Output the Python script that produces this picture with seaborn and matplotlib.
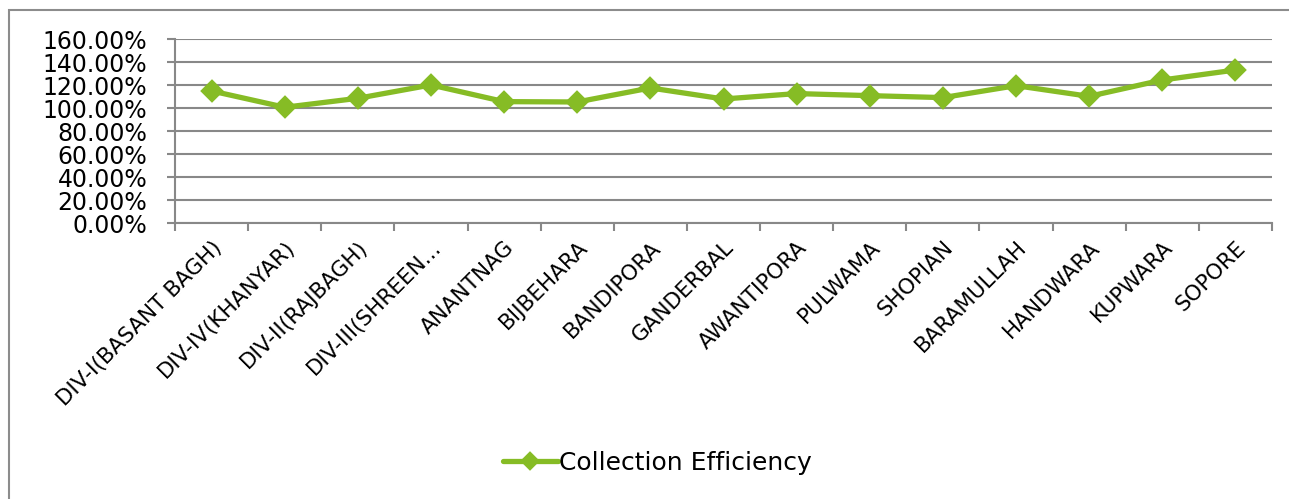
import numpy as np
import pandas as pd
import seaborn as sns
import matplotlib.pyplot as plt
from matplotlib.patches import Rectangle
from matplotlib.ticker import FuncFormatter, MultipleLocator

# Chart data
divisions = ['DIV-I(BASANT BAGH)', 'DIV-IV(KHANYAR)', 'DIV-II(RAJBAGH)', 'DIV-III(SHREEN...',
             'ANANTNAG', 'BIJBEHARA', 'BANDIPORA', 'GANDERBAL', 'AWANTIPORA', 'PULWAMA',
             'SHOPIAN', 'BARAMULLAH', 'HANDWARA', 'KUPWARA', 'SOPORE']
efficiency = [115.1, 100.9, 108.7, 120.3, 105.8, 105.5, 117.7, 108.1, 112.8, 111.0,
              109.3, 119.7, 110.4, 124.6, 133.3]
series_name = 'Collection Efficiency'
y_ticks = [0, 20, 40, 60, 80, 100, 120, 140, 160]

GREEN = '#86BC25'
GRID = '#888888'


def plot_efficiency(df):
    """
    Line chart of collection efficiency per division, Excel style.
    """
    sns.set_style('white')
    plt.rcParams['font.family'] = ['DejaVu Sans']
    plt.rcParams['text.color'] = 'black'
    plt.rcParams['xtick.labelcolor'] = 'black'
    plt.rcParams['ytick.labelcolor'] = 'black'

    fig = plt.figure(figsize=(12.89, 4.99), dpi=100)
    ax = fig.add_axes([175 / 1289, 1 - 223.3 / 499, (1272 - 175) / 1289, 184 / 499])

    sns.pointplot(data=df, x='Division', y='Efficiency', color=GREEN, markers='D',
                  markersize=9, linewidth=3.8, ax=ax, label=series_name)

    # y axis: percent ticks with horizontal grid
    ax.set_ylim(y_ticks[0], y_ticks[-1])
    ax.set_yticks(y_ticks)
    ax.yaxis.set_major_formatter(FuncFormatter(lambda v, p: f"{v:.2f}%"))
    ax.yaxis.grid(True, color=GRID, linewidth=1.5)
    ax.set_axisbelow(True)
    ax.tick_params(axis='y', which='major', left=True, length=6, width=1.5,
                   color=GRID, pad=14, labelsize=17)

    # x axis: labels at centres, tick marks at category boundaries
    ax.set_xlim(-0.5, len(df) - 0.5)
    ax.xaxis.set_minor_locator(MultipleLocator(1, offset=0.5))
    ax.tick_params(axis='x', which='major', bottom=False, length=0, pad=10, labelsize=15.5)
    ax.tick_params(axis='x', which='minor', bottom=True, length=6, width=1.5, color=GRID)
    plt.setp(ax.get_xticklabels(), rotation=45, ha='right', rotation_mode='anchor')
    ax.set_xlabel('')
    ax.set_ylabel('')

    for side in ['top', 'right']:
        ax.spines[side].set_visible(False)
    for side in ['left', 'bottom']:
        ax.spines[side].set_color(GRID)
        ax.spines[side].set_linewidth(1.5)

    # legend below the chart
    if ax.get_legend() is not None:
        ax.get_legend().remove()
    handles, labels = ax.get_legend_handles_labels()
    leg = fig.legend(handles[:1], labels[:1], loc='center', bbox_to_anchor=(657 / 1289, 1 - 463 / 499),
                     frameon=False, fontsize=18, handlelength=2.2, handletextpad=0.05, markerscale=0.8)

    # chart area border (cropped on the right and bottom)
    fig.patches.append(Rectangle((9 / 1289, -0.1), 1.2, 1.1 - 10 / 499, transform=fig.transFigure,
                                 fill=False, edgecolor='#8c8c8c', linewidth=1.5))

    fig.savefig('out.png', dpi=100)


def main():
    df = pd.DataFrame({'Division': divisions, 'Efficiency': efficiency})
    plot_efficiency(df)


if __name__ == "__main__":
    main()
